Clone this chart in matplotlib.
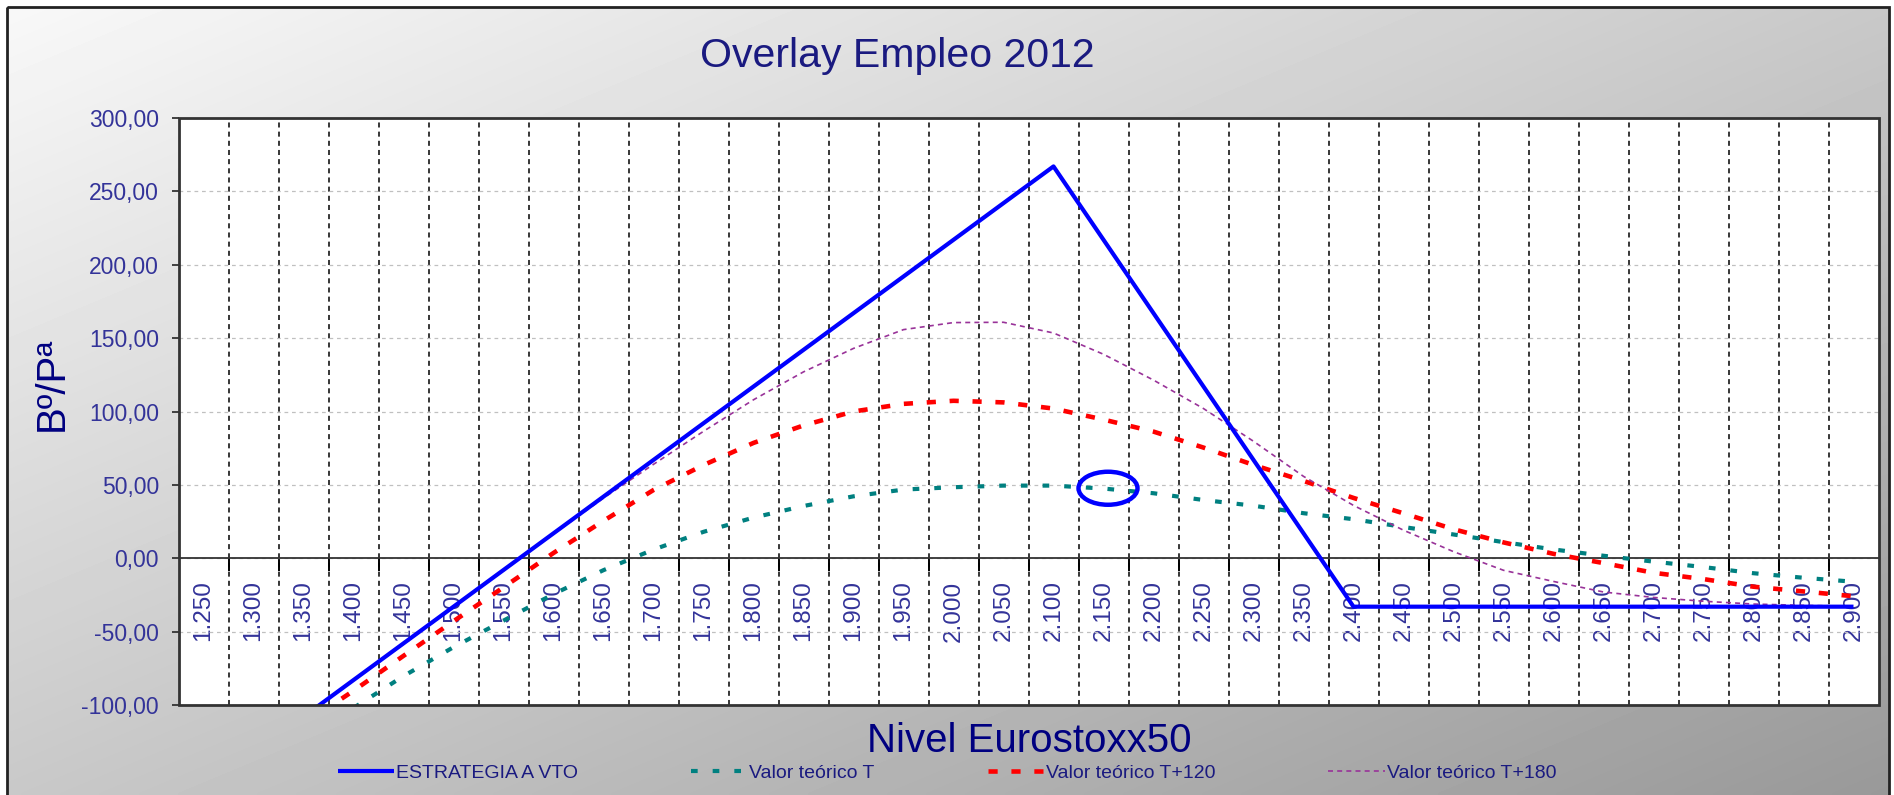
import numpy as np
import matplotlib
matplotlib.use('Agg')
import matplotlib.pyplot as plt
from matplotlib.patches import Ellipse, Rectangle
from matplotlib.ticker import FuncFormatter

nan = np.nan

# Nivel Eurostoxx50 (categorias del eje X)
niveles = ['1.250', '1.300', '1.350', '1.400', '1.450', '1.500', '1.550', '1.600',
           '1.650', '1.700', '1.750', '1.800', '1.850', '1.900', '1.950', '2.000',
           '2.050', '2.100', '2.150', '2.200', '2.250', '2.300', '2.350', '2.400',
           '2.450', '2.500', '2.550', '2.600', '2.650', '2.700', '2.750', '2.800',
           '2.850', '2.900']

estrategia_vto = [nan, nan, -108, -83, -58, -33, -8, 17, 42, 67, 92, 117, 142, 167,
                  192, 217, 242, 267, 217, 167, 117, 67, 17, -33, -33, -33, -33,
                  -33, -33, -33, -33, -33, -33, -33]

valor_t = [nan, nan, nan, -102, -80.3, -60.6, -42.5, -24.4, -8.1, 5.9, 18, 27.7,
           35.6, 42.2, 46.8, 48.4, 49.5, 49.5, 47.5, 44.3, 39.7, 35.8, 30.7, 26.6,
           21.3, 16.2, 11, 6, 1.7, -2.3, -6, -10.2, -13.3, -16]

valor_t120 = [nan, nan, -113, -90.3, -66.5, -42.9, -19.8, 3.6, 25.5, 46.5, 63.5,
              78.6, 90.5, 100, 105.2, 107.3, 106.2, 102, 94.5, 86.3, 75.4, 63.6,
              52.7, 41.1, 30.6, 19.8, 10.8, 3, -3.3, -9.9, -14.2, -19.4, -22.6, -25.9]

valor_t180 = [nan, nan, -108.5, -83.5, -58.5, -33.5, -8.5, 16.5, 41, 64, 86.5, 108,
              127, 143, 155.8, 160.6, 160.8, 153.5, 139, 121.4, 102, 79.7, 55.8, 36,
              19.1, 4.5, -8.2, -15.8, -23, -26.7, -29.3, -31.2, -32.1, -32.7]

# elipse que marca el punto actual
marca_x, marca_y = 18.09, 47.7
marca_w, marca_h = 1.18, 22.5

W, H = 1894, 795
fig = plt.figure(figsize=(W / 100, H / 100), dpi=100)
plt.rcParams['font.family'] = ['Liberation Sans', 'DejaVu Sans']

# fondo degradado del grafico
bg = fig.add_axes([0, 0, 1, 1])
bg.set_xlim(0, W)
bg.set_ylim(H, 0)
yy, xx = np.mgrid[0:1:200j, 0:1:400j]
grad = (248 - 95 * (xx + yy) / 2) / 255.0
bg.imshow(grad, extent=(7, 1889, H, 7), cmap='gray', vmin=0, vmax=1,
          aspect='auto', interpolation='bilinear')
bg.add_patch(Rectangle((7, 7), 1882, H + 10, fill=False, lw=2, ec='#222222'))
bg.axis('off')

ax = fig.add_axes([178.5 / W, 1 - 705 / H, 1700 / W, 587 / H])
ax.set_facecolor('white')
x = np.arange(len(niveles))

ax.plot(x, estrategia_vto, color='#0000FF', lw=3, solid_capstyle='butt',
        label='ESTRATEGIA A VTO', zorder=5)
ax.plot(x, valor_t, color='#008080', lw=3, linestyle=(0, (1.6, 3.6)),
        label='Valor teórico T', zorder=3)
ax.plot(x, valor_t120, color='#FF0000', lw=3.3, linestyle=(0, (2.0, 3.0)),
        label='Valor teórico T+120', zorder=4)
ax.plot(x, valor_t180, color='#993399', lw=1.2, linestyle=(0, (3, 2.5)),
        label='Valor teórico T+180', zorder=4)

ax.add_patch(Ellipse((marca_x, marca_y), marca_w, marca_h, fill=False,
                     ec='#0000FF', lw=3.2, zorder=6))

ax.set_xlim(-0.5, len(niveles) - 0.5)
ax.set_ylim(-100, 300)

# eje X cruzando en 0
for s in ['top', 'right', 'left']:
    ax.spines[s].set_visible(False)
ax.spines['bottom'].set_position(('data', 0))
ax.spines['bottom'].set_color('#333333')
ax.spines['bottom'].set_linewidth(1.3)
ax.add_patch(Rectangle((0, 0), 1, 1, transform=ax.transAxes, fill=False,
                       lw=2, ec='#333333', zorder=7, clip_on=False))

ax.set_xticks(x)
ax.set_xticklabels(niveles, rotation=90, va='top', ha='center')
ax.set_xticks(np.arange(0.5, len(niveles) - 1, 1), minor=True)
ax.tick_params(axis='x', which='major', length=0, pad=16, labelsize=17.5,
               labelcolor='#333399')
ax.tick_params(axis='x', which='minor', length=9, width=1.4, color='black',
               direction='out')
ax.grid(which='minor', axis='x', color='black', lw=1.1, linestyle=(0, (3.3, 2.7)))

ax.set_yticks(np.arange(-100, 301, 50))
ax.yaxis.set_major_formatter(FuncFormatter(lambda v, p: f'{v:.2f}'.replace('.', ',')))
ax.tick_params(axis='y', length=5, width=1.3, color='#333333', pad=9,
               labelsize=16.5, labelcolor='#333399')
ax.grid(which='major', axis='y', color='#c0c0c0', lw=0.9, linestyle=(0, (3, 3)))

fig.text(897 / W, 1 - 67 / H, 'Overlay Empleo 2012', fontsize=29.5, color='#1a1a80',
         ha='center', va='baseline')
fig.text(1029 / W, 1 - 752 / H, 'Nivel Eurostoxx50', fontsize=29, color='#000080',
         ha='center', va='baseline')
fig.text(52 / W, 411.5 / H, 'Bº/Pª', fontsize=29, color='#000080', rotation=90,
         ha='center', va='center')

fig.legend(loc='center', bbox_to_anchor=(0.5, 1 - 773 / H), ncol=4, frameon=False,
           fontsize=14, handlelength=2.9, handletextpad=0.1, columnspacing=5.8,
           labelcolor='#1a1a80')

fig.savefig('out.png', dpi=100)
